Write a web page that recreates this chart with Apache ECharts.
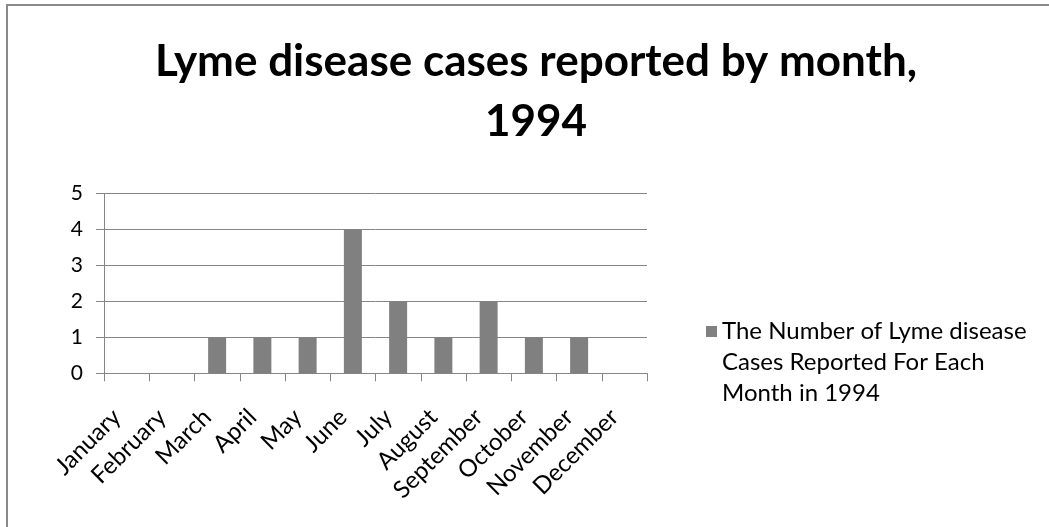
<!DOCTYPE html>
<html>
<head>
<meta charset="utf-8">
<script src="https://cdn.jsdelivr.net/npm/echarts@6/dist/echarts.min.js"></script>
<style>
html,body{margin:0;padding:0;background:#fff;}
#chart{width:1049px;height:527px;}
</style>
</head>
<body>
<div id="chart"></div>
<script>
const months = ['January','February','March','April','May','June','July','August','September','October','November','December'];
const cases = [0, 0, 1, 1, 1, 4, 2, 1, 2, 1, 1, 0];
const seriesName = 'The Number of Lyme disease Cases Reported For Each Month in 1994';
const legendLines = ['The Number of Lyme disease', 'Cases Reported For Each', 'Month in 1994'];
const titleText = 'Lyme disease cases reported by month,\n1994';
const yTicks = {min: 0, max: 5, interval: 1};

const FONT = 'Lato, "Open Sans", sans-serif';
const chart = echarts.init(document.getElementById('chart'), null, {renderer: 'canvas'});
chart.setOption({
  animation: false,
  backgroundColor: '#fff',
  graphic: [{
    type: 'rect',
    shape: {x: 7, y: 5, width: 1200, height: 700},
    style: {fill: 'none', stroke: '#8a8a8a', lineWidth: 2},
    silent: true
  }],
  title: {
    text: titleText,
    left: 531,
    top: 27,
    textAlign: 'center',
    textStyle: {fontFamily: FONT, fontWeight: 'bold', fontSize: 44, lineHeight: 60, color: '#000'}
  },
  legend: {
    orient: 'vertical',
    left: 706,
    top: 316,
    padding: 0,
    itemWidth: 11,
    itemHeight: 73,
    icon: 'path://M0,0L11,0L11,11L0,11Z M0,72.99L0.01,72.99L0.01,73L0,73Z',
    formatter: () => legendLines.join('\n'),
    textStyle: {fontFamily: FONT, fontSize: 24, lineHeight: 31, color: '#000'},
    data: [seriesName]
  },
  grid: {left: 104, right: 402, top: 193.7, bottom: 153.7, containLabel: false},
  xAxis: {
    type: 'category',
    data: months,
    boundaryGap: true,
    axisLine: {show: true, lineStyle: {color: '#868686', width: 1}},
    axisTick: {show: true, length: 8, alignWithLabel: false, lineStyle: {color: '#868686'}},
    axisLabel: {interval: 0, rotate: 45, margin: 30, padding: [0, 14, 0, 0], fontFamily: FONT, fontSize: 24, color: '#000'},
    splitLine: {show: false}
  },
  yAxis: {
    type: 'value',
    min: yTicks.min,
    max: yTicks.max,
    interval: yTicks.interval,
    axisLine: {show: true, lineStyle: {color: '#868686', width: 1}},
    axisTick: {show: true, length: 8, lineStyle: {color: '#868686'}},
    axisLabel: {margin: 21, fontFamily: FONT, fontSize: 21, color: '#000'},
    splitLine: {show: true, lineStyle: {color: '#868686', width: 1}}
  },
  series: [{
    name: seriesName,
    type: 'bar',
    data: cases,
    barWidth: 18,
    itemStyle: {color: '#808080'}
  }]
});
</script>
</body>
</html>
